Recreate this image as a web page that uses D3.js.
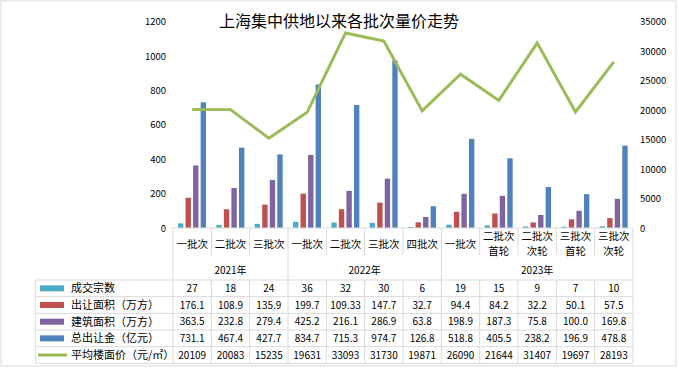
<!DOCTYPE html>
<html><head><meta charset="utf-8">
<script src="https://cdn.jsdelivr.net/npm/d3@7"></script>
<style>
html,body{margin:0;padding:0;background:#fff;}
svg{display:block;font-family:"Noto Sans CJK SC","Noto Sans",sans-serif;}
</style></head><body>
<svg id="c" width="679" height="368"></svg>
<script>
const title = "上海集中供地以来各批次量价走势";
const categories = ["一批次","二批次","三批次","一批次","二批次","三批次","四批次","一批次","二批次\n首轮","二批次\n次轮","三批次\n首轮","三批次\n次轮"];
const years = ["2021年","2022年","2023年"];
const yearSpans = [3,4,5];
const deals = [27,18,24,36,32,30,6,19,15,9,7,10];
const landArea = [176.1,108.9,135.9,199.7,109.33,147.7,32.7,94.4,84.2,32.2,50.1,57.5];
const buildArea = [363.5,232.8,279.4,425.2,216.1,286.9,63.8,198.9,187.3,75.8,100.0,169.8];
const totalPrice = [731.1,467.4,427.7,834.7,715.3,974.7,126.8,518.8,405.5,238.2,196.9,478.8];
const avgPrice = [20109,20083,15235,19631,33093,31730,19871,26090,21644,31407,19697,28193];
const seriesNames = ["成交宗数","出让面积（万方）","建筑面积（万方）","总出让金（亿元）","平均楼面价（元/㎡）"];
const leftTicks = [0,200,400,600,800,1000,1200];
const rightTicks = [0,5000,10000,15000,20000,25000,30000,35000];

const colors = ["#4bacc6","#c0504d","#8064a2","#4f81bd","#9bbb59"];
const barSeries = [deals, landArea, buildArea, totalPrice];
const gridC = "#d9d9d9";

const svg = d3.select("#c");
svg.append("rect").attr("x",1).attr("y",1).attr("width",675).attr("height",365)
  .attr("fill","#fff").attr("stroke",gridC).attr("stroke-width",1);

const x0 = 173, x1 = 633, yTop = 21.7, yBase = 228;
const x = d3.scaleBand().domain(d3.range(categories.length)).range([x0,x1]).padding(0);
const xs = d3.scaleBand().domain(d3.range(4)).range([5,33]).paddingInner(0.29);
const yL = d3.scaleLinear().domain([0,1200]).range([yBase,yTop]);
const yR = d3.scaleLinear().domain([0,35000]).range([yBase,yTop]);

// title
svg.append("text").attr("x",339).attr("y",27).attr("text-anchor","middle")
  .attr("font-size",16).attr("fill","#000").text(title);

// axes
const axL = svg.append("g").attr("transform",`translate(${x0},0)`)
  .call(d3.axisLeft(yL).tickValues(leftTicks).tickSize(0).tickPadding(7).tickFormat(d3.format("d")));
const axR = svg.append("g").attr("transform",`translate(${x1},0)`)
  .call(d3.axisRight(yR).tickValues(rightTicks).tickSize(0).tickPadding(7).tickFormat(d3.format("d")));
[axL,axR].forEach(a=>{a.select(".domain").remove();
  a.selectAll("text").attr("font-size",9.5).attr("fill","#000")
   .attr("font-family","'Noto Sans CJK SC',sans-serif");});

// bars
barSeries.forEach((arr,s)=>{
  svg.append("g").selectAll("rect").data(arr).join("rect")
    .attr("x",(d,i)=>x(i)+xs(s)).attr("width",xs.bandwidth())
    .attr("y",d=>yL(d)).attr("height",d=>yBase-yL(d)).attr("fill",colors[s]);
});

// line
const line = d3.line().x((d,i)=>x(i)+x.bandwidth()/2).y(d=>yR(d));
svg.append("path").datum(avgPrice).attr("d",line).attr("fill","none")
  .attr("stroke",colors[4]).attr("stroke-width",3).attr("stroke-linejoin","miter");

// table
const g = svg.append("g");
const rowTop = 280, rowH = 16.67, nRows = 5, tBottom = rowTop+rowH*nRows, legL = 35.7;
const ln = (xa,ya,xb,yb)=>g.append("line").attr("x1",xa).attr("y1",ya).attr("x2",xb).attr("y2",yb)
  .attr("stroke",gridC).attr("stroke-width",1);
ln(x0,yBase,x1,yBase);
for(let r=0;r<=nRows;r++){ ln(legL,rowTop+r*rowH,x1,rowTop+r*rowH); }
ln(legL,rowTop,legL,tBottom);
ln(x0,yBase,x0,tBottom);
ln(x1,yBase,x1,tBottom);
for(let i=1;i<categories.length;i++){
  ln(x(i),yBase,x(i),255); ln(x(i),rowTop,x(i),tBottom);
}
let acc=0;
yearSpans.forEach((n,k)=>{
  const xa=x(acc), xb = acc+n<categories.length? x(acc+n): x1;
  if(k>0) ln(xa,255,xa,rowTop);
  g.append("text").attr("x",(xa+xb)/2).attr("y",274).attr("text-anchor","middle")
    .attr("font-size",10).attr("fill","#000").text(years[k]);
  acc+=n;
});
// category labels (each line as its own text)
categories.forEach((c,i)=>{
  const parts=c.split("\n");
  parts.forEach((p,j)=>{
    const yy = parts.length===1? 248 : 240+j*15;
    g.append("text").attr("text-anchor","middle").attr("font-size",10.5).attr("fill","#000")
      .attr("x",x(i)+x.bandwidth()/2).attr("y",yy).text(p);
  });
});
const fmt = v => Math.abs(v*10-Math.round(v*10))<1e-6 ? v.toFixed(1) : String(v);
const rows = [deals.map(String), landArea.map(fmt), buildArea.map(fmt), totalPrice.map(fmt), avgPrice.map(String)];
rows.forEach((vals,r)=>{
  const cy = rowTop + r*rowH + rowH/2;
  if(r<4){
    g.append("rect").attr("x",40).attr("y",cy-3).attr("width",24).attr("height",6).attr("fill",colors[r]);
  } else {
    g.append("line").attr("x1",38).attr("x2",67).attr("y1",cy).attr("y2",cy)
      .attr("stroke",colors[4]).attr("stroke-width",3);
  }
  g.append("text").attr("x",71).attr("y",cy+4).attr("font-size",11).attr("fill","#000").text(seriesNames[r]);
  g.selectAll(null).data(vals).join("text")
    .attr("x",(d,i)=>x(i)+x.bandwidth()/2).attr("y",cy+3.5).attr("text-anchor","middle")
    .attr("font-size",10).attr("fill","#000").text(d=>d);
});
</script></body></html>
